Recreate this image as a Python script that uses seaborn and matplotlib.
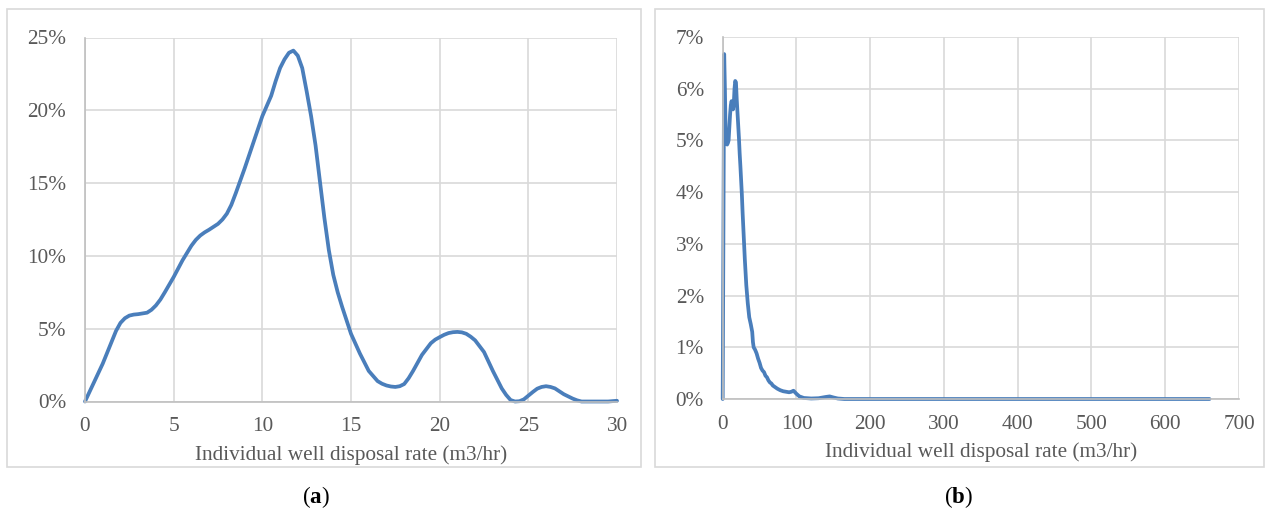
import matplotlib
matplotlib.use("Agg")
import matplotlib.pyplot as plt
import matplotlib.ticker as mticker
from matplotlib.patches import Rectangle
import seaborn as sns

# (a) distribution of individual well disposal rate, 0-30 m3/hr
rate_a = [0, 0.5, 1, 1.5, 1.75, 2, 2.25, 2.5, 2.75, 3, 3.5, 3.75, 4, 4.25, 4.5,
          5, 5.5, 6, 6.25, 6.5, 6.75, 7, 7.5, 7.75, 8, 8.25, 8.5, 9, 9.5, 10,
          10.25, 10.5, 10.75, 11, 11.25, 11.5, 11.75, 12, 12.25, 12.5, 12.75, 13,
          13.25, 13.5, 13.75, 14, 14.25, 14.5, 15, 15.5, 16, 16.5, 16.75, 17,
          17.25, 17.5, 17.75, 18, 18.25, 18.5, 19, 19.5, 19.75, 20, 20.25, 20.5,
          20.75, 21, 21.25, 21.5, 21.75, 22, 22.5, 23, 23.5, 23.75, 24, 24.25,
          24.5, 24.75, 25, 25.25, 25.5, 25.75, 26, 26.25, 26.5, 27, 27.5, 27.75,
          28, 28.5, 29, 29.5, 30]
share_a = [0.0, 1.3, 2.6, 4.1, 4.85, 5.4, 5.72, 5.9, 5.97, 6.0, 6.1, 6.3, 6.6,
           7.0, 7.5, 8.55, 9.7, 10.7, 11.1, 11.4, 11.62, 11.8, 12.2, 12.5, 12.9,
           13.5, 14.3, 16.0, 17.8, 19.6, 20.3, 21.0, 22.0, 22.9, 23.5, 23.95,
           24.1, 23.75, 22.9, 21.3, 19.6, 17.6, 15.1, 12.6, 10.4, 8.7, 7.5, 6.5,
           4.65, 3.3, 2.1, 1.4, 1.22, 1.1, 1.03, 1.0, 1.05, 1.2, 1.6, 2.1, 3.2,
           4.0, 4.25, 4.42, 4.58, 4.7, 4.76, 4.78, 4.75, 4.65, 4.45, 4.2, 3.4,
           2.1, 0.9, 0.45, 0.1, 0.0, 0.02, 0.15, 0.4, 0.65, 0.88, 1.0, 1.05,
           1.0, 0.9, 0.5, 0.2, 0.08, 0.0, 0.0, 0.0, 0.0, 0.05]

# (b) distribution over the full range, 0-660 m3/hr
rate_b = [0, 2, 3, 4, 5, 6, 7, 8, 9, 10, 11, 12, 13, 14, 15, 16, 17, 18, 19, 20,
          21, 22, 23, 24, 26, 27, 28, 30, 32, 34, 36, 38, 40, 41, 42, 44, 46, 48,
          50, 52, 54, 56, 58, 60, 62, 64, 66, 68, 70, 74, 78, 82, 86, 90, 93, 96,
          98, 100, 104, 110, 120, 130, 140, 145, 150, 156, 165, 660]
share_b = [0.0, 6.67, 6.0, 5.1, 4.95, 4.92, 4.95, 5.0, 5.25, 5.5, 5.68, 5.76, 5.7,
           5.6, 5.7, 6.0, 6.15, 6.12, 5.8, 5.55, 5.3, 5.05, 4.75, 4.5, 3.95, 3.6,
           3.3, 2.7, 2.2, 1.85, 1.58, 1.45, 1.3, 1.1, 1.0, 0.95, 0.88, 0.78, 0.7,
           0.6, 0.55, 0.52, 0.45, 0.42, 0.36, 0.32, 0.3, 0.26, 0.24, 0.2, 0.17,
           0.15, 0.14, 0.13, 0.14, 0.16, 0.13, 0.1, 0.05, 0.02, 0.01, 0.015, 0.04,
           0.05, 0.03, 0.01, 0.0, 0.0]

x_label = "Individual well disposal rate (m3/hr)"
panel_tags = ["a", "b"]

sns.set_style("white")
plt.rcParams["font.family"] = ["Liberation Serif", "DejaVu Serif"]
plt.rcParams["mathtext.fontset"] = "custom"
plt.rcParams["mathtext.rm"] = "Liberation Serif"
plt.rcParams["mathtext.bf"] = "Liberation Serif:bold"

LINE = "#4a7ebb"
GRID = "#d9d9d9"
AXIS = "#bfbfbf"
TEXT = "#595959"
FS = 15.3

W, H = 1268, 517
fig = plt.figure(figsize=(W / 100, H / 100), dpi=100)


def frac(x0, x1, ytop, ybot):
    return [x0 / W, (H - ybot) / H, (x1 - x0) / W, (ybot - ytop) / H]


ax_a = fig.add_axes(frac(85, 617, 37.5, 401.5))
ax_b = fig.add_axes(frac(722.7, 1239, 37, 399))

# panel frames
for (x0, x1) in [(7, 641), (655, 1264)]:
    fig.patches.append(Rectangle((x0, H - 467), x1 - x0, 467 - 9,
                                 transform=None, fill=False,
                                 edgecolor=GRID, linewidth=1.2, zorder=0))

sns.lineplot(x=rate_a, y=[v / 100 for v in share_a], ax=ax_a, color=LINE,
             linewidth=2.7, sort=False)
sns.lineplot(x=rate_b, y=[v / 100 for v in share_b], ax=ax_b, color=LINE,
             linewidth=2.7, sort=False)
for ax in (ax_a, ax_b):
    for line in ax.lines:
        line.set_solid_joinstyle("round")
        line.set_solid_capstyle("round")


def style(ax, xmax, xmajor, xminor, ymax, ymajor, yminor):
    ax.set_xlim(0, xmax)
    ax.set_ylim(0, ymax)
    ax.xaxis.set_major_locator(mticker.MultipleLocator(xmajor))
    ax.xaxis.set_minor_locator(mticker.MultipleLocator(xminor))
    ax.yaxis.set_major_locator(mticker.MultipleLocator(ymajor))
    ax.yaxis.set_minor_locator(mticker.MultipleLocator(yminor))
    ax.yaxis.set_major_formatter(mticker.PercentFormatter(1.0, decimals=0))
    ax.grid(True, which="major", color=GRID, linewidth=1.2)
    ax.set_axisbelow(True)
    for s in ["top", "right"]:
        ax.spines[s].set_visible(False)
    for s in ["left", "bottom"]:
        ax.spines[s].set_color(AXIS)
        ax.spines[s].set_linewidth(1.2)
    ax.tick_params(which="major", direction="out", length=4.5, width=1.2,
                   color=GRID, labelcolor=TEXT, labelsize=FS)
    ax.tick_params(axis="y", which="major", pad=9)
    ax.tick_params(axis="x", which="major", pad=7)
    ax.tick_params(which="minor", direction="in", length=3.5, width=1.2,
                   color=GRID)
    ax.set_xlabel(x_label, fontsize=FS, color=TEXT, labelpad=6)
    ax.set_ylabel("")
    for line in ax.lines:
        line.set_clip_on(False)


style(ax_a, 30, 5, 1, 0.25, 0.05, 0.01)
style(ax_b, 700, 100, 20, 0.07, 0.01, 0.002)

for tag, xc in zip(panel_tags, [316, 958]):
    fig.text(xc / W, (H - 497) / H, r"($\mathbf{" + tag + r"}$)",
             ha="center", va="center", fontsize=16.5, color="black")

fig.savefig("out.png", dpi=100)
